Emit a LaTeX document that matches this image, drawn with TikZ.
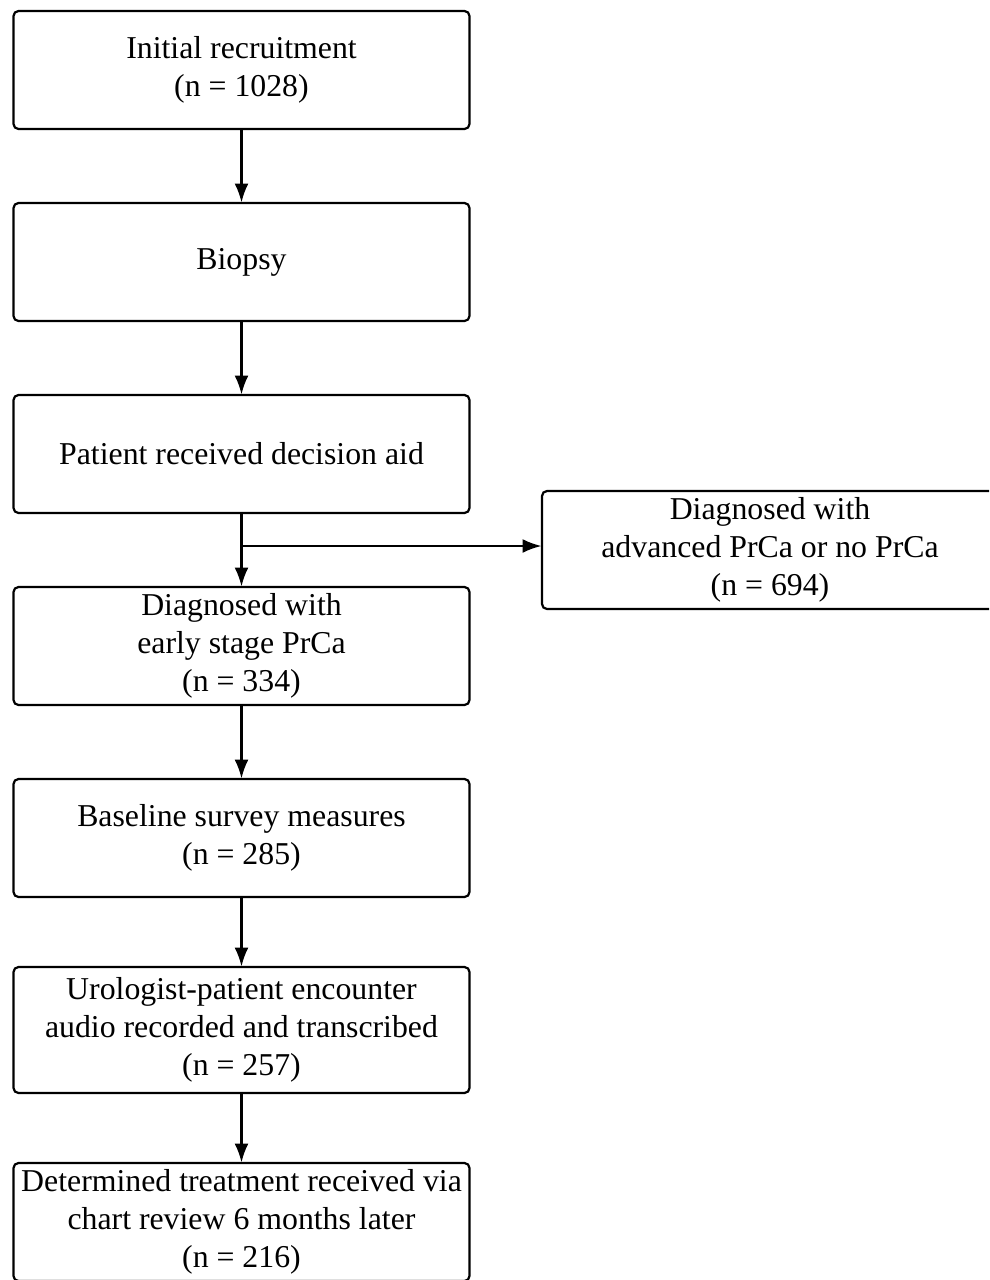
\documentclass[tikz,border=0pt]{standalone}
\usepackage{fontspec}
\setmainfont{Liberation Serif}
\usetikzlibrary{arrows.meta,positioning}
\begin{document}
\begin{tikzpicture}[x=1pt,y=-1pt,
  box/.style={draw, line width=2.2pt, rounded corners=5pt, minimum width=456pt, minimum height=118pt,
    align=center, inner sep=0pt, outer sep=0.5pt,
    font=\fontsize{31.8}{38.3}\selectfont},
  conn/.style={line width=2.2pt, -{Latex[length=19pt,width=14pt]}}]
\useasboundingbox (0,0) rectangle (989,1280);
\clip (0,0) rectangle (989,1280);
\node[box] (a) at (241.5,70) {Initial recruitment\\(n = 1028)};
\node[box] (b) at (241.5,262) {Biopsy};
\node[box] (c) at (241.5,454) {Patient received decision aid};
\node[box] (d) at (241.5,646) {Diagnosed with\\early stage PrCa\\(n = 334)};
\node[box] (r) at (770,550) {Diagnosed with\\advanced PrCa or no PrCa\\(n = 694)};
\node[box] (e) at (241.5,838) {Baseline survey measures\\(n = 285)};
\node[box, minimum height=126pt] (f) at (241.5,1030) {Urologist-patient encounter\\audio recorded and transcribed\\(n = 257)};
\node[box] (g) at (241.5,1222) {Determined treatment received via\\chart review 6 months later\\(n = 216)};
\coordinate (j) at (241.5,546);
\draw[conn] (a) -- (b);
\draw[conn] (b) -- (c);
\draw[conn] (c) -- (d);
\draw[conn] (j) -- (r.west |- j);
\draw[conn] (d) -- (e);
\draw[conn] (e) -- (f);
\draw[conn] (f) -- (g);
\end{tikzpicture}
\end{document}
